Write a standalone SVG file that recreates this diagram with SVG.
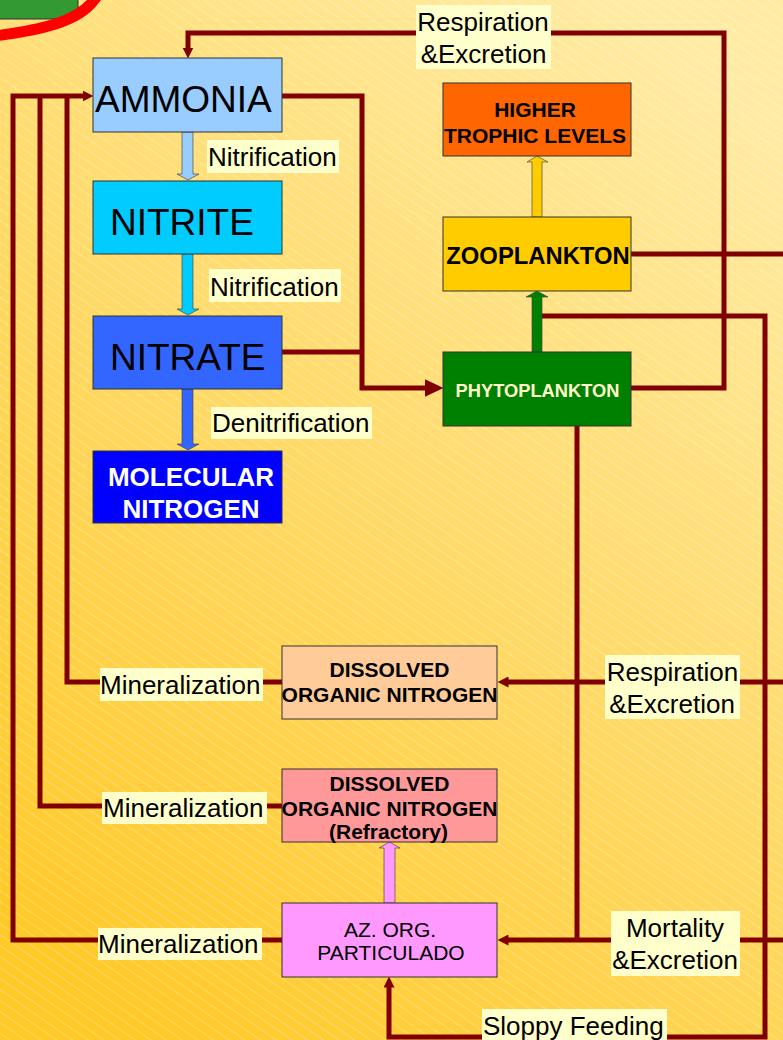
<svg xmlns="http://www.w3.org/2000/svg" width="783" height="1040" viewBox="0 0 783 1040">
<defs>
<linearGradient id="bg" x1="0.2" y1="1" x2="0.8" y2="0">
<stop offset="0" stop-color="#FFC928"/>
<stop offset="0.5" stop-color="#FFDA68"/>
<stop offset="1" stop-color="#FFEBA4"/>
</linearGradient>
<pattern id="hatch" width="10" height="9" patternUnits="userSpaceOnUse" patternTransform="rotate(35)">
<line x1="0" y1="0.5" x2="10" y2="0.5" stroke="#fff" stroke-opacity="0.35" stroke-width="0.8"/>
</pattern>
<marker id="ah" markerUnits="userSpaceOnUse" markerWidth="11" markerHeight="11" refX="0.5" refY="5.5" orient="auto" viewBox="0 0 11 11">
<path d="M0,0 L11,5.5 L0,11 z" fill="#800000"/>
</marker>
<marker id="ahbig" markerUnits="userSpaceOnUse" markerWidth="19" markerHeight="18" refX="0.5" refY="9" orient="auto" viewBox="0 0 19 18">
<path d="M0,0 L19,9 L0,18 z" fill="#800000"/>
</marker>
<style>
.conn{fill:none;stroke:#800000;stroke-width:5;stroke-linejoin:miter}
.node rect{stroke:#333;stroke-width:1}
.lbl rect{fill:#FFFFCC}
text{font-family:"Liberation Sans",Arial,sans-serif;fill:#000}
.lbl text{font-size:26px}
.big{font-size:37px}
.b{font-weight:bold}
.m{text-anchor:middle}
.blk{stroke:#404040;stroke-width:0.8;stroke-opacity:0.8}
</style>
</defs>

<rect x="0" y="0" width="783" height="1040" fill="url(#bg)"/>
<rect x="0" y="0" width="783" height="1040" fill="url(#hatch)"/>

<g id="decor">
<rect x="-2" y="-2" width="80" height="21" fill="#339933" stroke="#333" stroke-width="1"/>
<path d="M-5,36 C40,30 78,22 94,0 L102,-10" fill="none" stroke="#FF0000" stroke-width="11"/>
</g>

<g id="connectors">
<path class="conn" d="M631,388 H724 V33 H188 V48" marker-end="url(#ah)"/>
<path class="conn" d="M282,96 H362 V388 H425" marker-end="url(#ahbig)"/>
<path class="conn" d="M282,352 H362"/>
<path class="conn" d="M282,682 H67 V96"/>
<path class="conn" d="M282,806 H40 V96"/>
<path class="conn" d="M282,940 H13 V96 H83" marker-end="url(#ah)"/>
<path class="conn" d="M631,254 H790"/>
<path class="conn" d="M790,682 H508" marker-end="url(#ah)"/>
<path class="conn" d="M790,940 H508" marker-end="url(#ah)"/>
<path class="conn" d="M577,426 V940"/>
<path class="conn" d="M542,316 H765 V1037 H389 V987" marker-end="url(#ah)"/>
<polygon class="blk" fill="#99CCFF" points="182,132 193,132 193,174 199,174 188,180 177,174 182,174"/>
<polygon class="blk" fill="#00CCFF" points="182,254 193,254 193,309 199,309 188,315 177,309 182,309"/>
<polygon class="blk" fill="#3366FF" points="182,389 193,389 193,444 199,444 188,450 177,444 182,444"/>
<polygon class="blk" fill="#FFCC00" points="532,217 542,217 542,162 548,162 537,156 527,162 532,162"/>
<polygon class="blk" fill="#008000" points="532,352 542,352 542,297 548,297 537,291 526,297 532,297"/>
<polygon class="blk" fill="#FF99FF" points="384,903 395,903 395,848 400,848 389.5,842 379,848 384,848"/>
</g>

<g id="labels" class="lbl">
<rect x="416" y="5" width="135" height="64"/>
<text class="m" x="483" y="31">Respiration</text>
<text class="m" x="483.5" y="63">&amp;Excretion</text>
<rect x="207" y="140" width="132" height="33"/>
<text x="208" y="166">Nitrification</text>
<rect x="209" y="269" width="132" height="33"/>
<text x="210" y="296">Nitrification</text>
<rect x="211" y="407" width="161" height="32"/>
<text x="212" y="432">Denitrification</text>
<rect x="100" y="668" width="163" height="33"/>
<text x="100" y="694">Mineralization</text>
<rect x="102" y="792" width="165" height="32"/>
<text x="103" y="817">Mineralization</text>
<rect x="98" y="928" width="164" height="32"/>
<text x="98" y="953">Mineralization</text>
<rect x="605" y="655" width="135" height="64"/>
<text class="m" x="672.5" y="681">Respiration</text>
<text class="m" x="672" y="713">&amp;Excretion</text>
<rect x="611" y="911" width="129" height="65"/>
<text class="m" x="675" y="937">Mortality</text>
<text class="m" x="675" y="969">&amp;Excretion</text>
<rect x="482" y="1009" width="185" height="35"/>
<text x="483" y="1035">Sloppy Feeding</text>
</g>

<g id="ammonia" class="node">
<rect x="93" y="58" width="189" height="74" fill="#99CCFF"/>
<text class="big" x="95" y="112">AMMONIA</text>
</g>
<g id="nitrite" class="node">
<rect x="93" y="181" width="189" height="73" fill="#00CCFF"/>
<text class="big" x="110" y="235">NITRITE</text>
</g>
<g id="nitrate" class="node">
<rect x="93" y="316" width="189" height="73" fill="#3366FF"/>
<text class="big" x="110" y="370">NITRATE</text>
</g>
<g id="molecular-nitrogen" class="node">
<rect x="93" y="451" width="189" height="72" fill="#0000FF"/>
<text class="b m" x="191" y="486" font-size="26" style="fill:#fff">MOLECULAR</text>
<text class="b m" x="191" y="518" font-size="26" style="fill:#fff">NITROGEN</text>
</g>
<g id="higher-trophic-levels" class="node">
<rect x="443" y="83" width="188" height="73" fill="#FF6600"/>
<text class="b m" x="535" y="117" font-size="21">HIGHER</text>
<text class="b m" x="535" y="143" font-size="21">TROPHIC LEVELS</text>
</g>
<g id="zooplankton" class="node">
<rect x="443" y="217" width="188" height="74" fill="#FFCC00"/>
<text class="b m" x="538" y="264" font-size="23.8">ZOOPLANKTON</text>
</g>
<g id="phytoplankton" class="node">
<rect x="443" y="352" width="188" height="74" fill="#008000"/>
<text class="b m" x="537.5" y="397" font-size="18.3" style="fill:#FFFFCC">PHYTOPLANKTON</text>
</g>
<g id="dissolved-organic-nitrogen" class="node">
<rect x="282" y="646" width="215" height="73" fill="#FFCC99"/>
<text class="b m" x="389.5" y="677" font-size="21">DISSOLVED</text>
<text class="b m" x="389.5" y="702" font-size="21">ORGANIC NITROGEN</text>
</g>
<g id="dissolved-organic-nitrogen-refractory" class="node">
<rect x="282" y="769" width="215" height="73" fill="#FF9999"/>
<text class="b m" x="389.5" y="791" font-size="21">DISSOLVED</text>
<text class="b m" x="389.5" y="816" font-size="21">ORGANIC NITROGEN</text>
<text class="b m" x="388.5" y="839" font-size="21">(Refractory)</text>
</g>
<g id="particulate-organic-nitrogen" class="node">
<rect x="282" y="903" width="215" height="74" fill="#FF99FF"/>
<text class="m" x="390" y="937" font-size="21">AZ. ORG.</text>
<text class="m" x="391" y="960" font-size="21">PARTICULADO</text>
</g>
</svg>
